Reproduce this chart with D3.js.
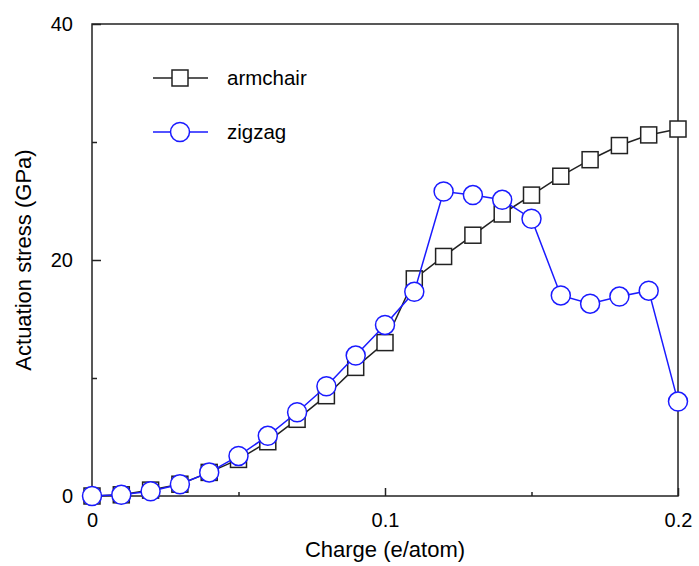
<!DOCTYPE html>
<html>
<head>
<meta charset="utf-8">
<script src="https://cdn.jsdelivr.net/npm/d3@7"></script>
<style>
  body { margin: 0; background: #fff; }
  text { font-family: "Liberation Sans", Arial, sans-serif; fill: #000; }
</style>
</head>
<body>
<div id="draw_here"></div>
<script>
    // Data
    charge = [0, 0.01, 0.02, 0.03, 0.04, 0.05, 0.06, 0.07, 0.08, 0.09, 0.10,
              0.11, 0.12, 0.13, 0.14, 0.15, 0.16, 0.17, 0.18, 0.19, 0.20]
    armchair = [0, 0.1, 0.5, 1.0, 2.0, 3.1, 4.6, 6.5, 8.5, 10.9, 13.0,
                18.4, 20.3, 22.1, 23.9, 25.5, 27.1, 28.5, 29.7, 30.6, 31.1]
    zigzag = [0, 0.1, 0.4, 1.0, 2.0, 3.4, 5.1, 7.1, 9.3, 11.9, 14.5,
              17.3, 25.8, 25.5, 25.1, 23.5, 17.0, 16.3, 16.9, 17.4, 8.0]
    seriesNames = ["armchair", "zigzag"]
    xTickLabels = [0, 0.1, 0.2]
    yTickLabels = [0, 20, 40]
    xMinor = [0.05, 0.15]
    yMinor = [10, 30]

    canvas = ({width: 699, height: 566})
    margin = ({top: 24, right: 21, bottom: 70, left: 92})

    c_black = "#222"
    c_blue = "#1a1aff"

    x = d3.scaleLinear()
        .domain([0, 0.2])
        .range([margin.left, canvas.width - margin.right])

    y = d3.scaleLinear()
        .domain([0, 40])
        .range([canvas.height - margin.bottom, margin.top])

    var svg = d3.select("div#draw_here").append("svg")
        .attr("width", canvas.width)
        .attr("height", canvas.height)

    // frame
    svg.append("rect")
        .attr("x", x(0)).attr("y", y(40))
        .attr("width", x(0.2) - x(0)).attr("height", y(0) - y(40))
        .attr("fill", "none").attr("stroke", "#222").attr("stroke-width", 1.5)

    // inward ticks
    xAxis = g => g
        .attr("transform", `translate(0,${y(0)})`)
        .call(d3.axisBottom(x).tickValues(xTickLabels).tickSize(-8).tickPadding(17)
            .tickFormat(d => d === 0 ? "0" : d3.format(".1f")(d)))
    xAxisMinor = g => g
        .attr("transform", `translate(0,${y(0)})`)
        .call(d3.axisBottom(x).tickValues(xMinor).tickSize(-4).tickFormat(""))
    yAxis = g => g
        .attr("transform", `translate(${x(0)},0)`)
        .call(d3.axisLeft(y).tickValues(yTickLabels).tickSize(-9).tickPadding(19))
    yAxisMinor = g => g
        .attr("transform", `translate(${x(0)},0)`)
        .call(d3.axisLeft(y).tickValues(yMinor).tickSize(-5).tickFormat(""))

    ;[xAxis, xAxisMinor, yAxis, yAxisMinor].forEach(ax => {
        const g = svg.append("g").call(ax)
        g.select(".domain").remove()
        g.selectAll(".tick line").attr("stroke", "#222").attr("stroke-width", 1.5)
        g.selectAll(".tick text").attr("font-size", 20).style("font-family", "Liberation Sans, Arial, sans-serif")
    })

    // axis titles
    svg.append("text")
        .attr("x", x(0.1)).attr("y", 557)
        .attr("text-anchor", "middle").attr("font-size", 22)
        .text("Charge (e/atom)")
    svg.append("text")
        .attr("transform", `translate(31,${y(20)}) rotate(-90)`)
        .attr("text-anchor", "middle").attr("font-size", 22)
        .text("Actuation stress (GPa)")

    line = d3.line()
        .x(d => x(d[0]))
        .y(d => y(d[1]))

    // armchair
    dataA = d3.zip(charge, armchair)
    svg.append("path")
        .attr("fill", "none").attr("stroke", c_black).attr("stroke-width", 1.5)
        .attr("d", line(dataA))
    svg.append("g").selectAll("rect").data(dataA).join("rect")
        .attr("x", d => x(d[0]) - 8).attr("y", d => y(d[1]) - 8)
        .attr("width", 16).attr("height", 16)
        .attr("fill", "#fff").attr("stroke", c_black).attr("stroke-width", 1.5)

    // zigzag
    dataZ = d3.zip(charge, zigzag)
    svg.append("path")
        .attr("fill", "none").attr("stroke", c_blue).attr("stroke-width", 1.5)
        .attr("d", line(dataZ))
    svg.append("g").selectAll("circle").data(dataZ).join("circle")
        .attr("cx", d => x(d[0])).attr("cy", d => y(d[1]))
        .attr("r", 9.5)
        .attr("fill", "#fff").attr("stroke", c_blue).attr("stroke-width", 1.5)

    // legend
    legY = [78, 132]
    seriesNames.forEach((name, i) => {
        const col = i === 0 ? c_black : c_blue
        const g = svg.append("g").attr("transform", `translate(0,${legY[i]})`)
        g.append("line").attr("x1", 153).attr("x2", 208).attr("y1", 0).attr("y2", 0)
            .attr("stroke", col).attr("stroke-width", 1.5)
        if (i === 0) {
            g.append("rect").attr("x", 172).attr("y", -8).attr("width", 16).attr("height", 16)
                .attr("fill", "#fff").attr("stroke", col).attr("stroke-width", 1.5)
        } else {
            g.append("circle").attr("cx", 180).attr("cy", 0).attr("r", 9.5)
                .attr("fill", "#fff").attr("stroke", col).attr("stroke-width", 1.5)
        }
        g.append("text").attr("x", 227).attr("y", 7).attr("font-size", 20.5).text(name)
    })
</script>
</body>
</html>
